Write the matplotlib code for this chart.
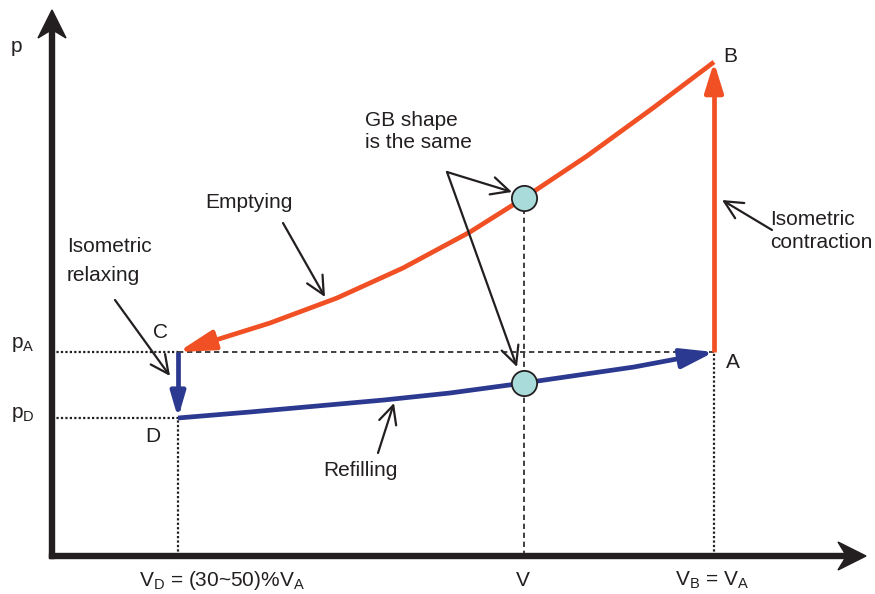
import matplotlib
matplotlib.use('Agg')
import matplotlib.pyplot as plt
from matplotlib.patches import FancyArrowPatch
from matplotlib.path import Path
import numpy as np

plt.rcParams['font.family'] = ['Liberation Sans', 'DejaVu Sans']
plt.rcParams['mathtext.default'] = 'regular'

# p-V loop, diagram units (origin = corner of the axes)
v_empty = [662, 601, 535, 472, 418, 351, 285, 218, 151, 126]
p_empty = [494, 448, 400, 358, 324, 288, 258, 233, 212, 204]
v_fill = [126, 198, 332, 398, 472, 582, 662]
p_fill = [138, 144, 156, 163, 173, 189, 204]

v_d, v_mid, v_a = 126, 472, 662
p_d, p_a, p_b = 138, 204, 494
p_mid = [358, 173]   # GB points on emptying / refilling curve

x_labels = ['V$_D$ = (30~50)%V$_A$', 'V', 'V$_B$ = V$_A$']
y_labels = ['p$_A$', 'p$_D$']

orange = '#f05023'
blue = '#2b3990'
ink = '#231f20'

fig = plt.figure(figsize=(8.75, 5.94), dpi=100)
ax = fig.add_axes([0, 0, 1, 1])
ax.set_xlim(-52, 823)
ax.set_ylim(-38, 556)
ax.axis('off')

# axes with arrows
ax.arrow(-2.5, 0, 816.5, 0, width=5, head_width=28, head_length=28, overhang=0.25,
         length_includes_head=True, color=ink, zorder=6)
ax.arrow(0, -2.5, 0, 548.5, width=5, head_width=28, head_length=28, overhang=0.25,
         length_includes_head=True, color=ink, zorder=6)

# guide lines
dot = dict(color=ink, lw=1.6, ls=(0, (1, 1)), dash_capstyle='butt')
dash = dict(color=ink, lw=1.2, ls=(0, (3.2, 2.2)))
ax.plot([0, v_d], [p_a, p_a], **dot)
ax.plot([0, v_d], [p_d, p_d], **dot)
ax.plot([v_d, v_d], [0, p_d], **dot)
ax.plot([v_a, v_a], [0, p_a], **dot)
ax.plot([v_d, v_a], [p_a, p_a], **dash)
ax.plot([v_mid, v_mid], [0, p_mid[0]], **dash)


def curve(vs, ps, color, hl=0.9, hw=0.28):
    path = Path(np.column_stack([vs, ps]))
    arr = FancyArrowPatch(path=path, arrowstyle=f'-|>,head_length={hl},head_width={hw}',
                          mutation_scale=20, lw=3.4, color=color,
                          joinstyle='round', capstyle='butt', zorder=4)
    ax.add_patch(arr)


curve(v_empty, p_empty, orange, hl=1.1, hw=0.3)
curve([v_a, v_a], [p_a, p_b], orange)
curve([v_d, v_d], [p_a, p_d], blue, hl=0.75, hw=0.22)
curve(v_fill, p_fill, blue, hl=1.0, hw=0.3)

ax.scatter([v_mid, v_mid], p_mid, s=330, color='#a9dbdb', edgecolor=ink,
           linewidth=1.3, zorder=7)

# labels
fs = 15
ax.text(-41, 509, 'p', fontsize=fs, color=ink, va='center')
ax.text(-41, 211, y_labels[0], fontsize=fs, color=ink, va='center')
ax.text(-41, 141, y_labels[1], fontsize=fs, color=ink, va='center')
for x, lab in zip([170, 471, 660], x_labels):
    ax.text(x, -24, lab, fontsize=fs, color=ink, ha='center', va='center')
for x, y, lab in [(108, 223, 'C'), (101, 119, 'D'), (681, 194, 'A'), (678, 499, 'B')]:
    ax.text(x, y, lab, fontsize=fs, color=ink, ha='center', va='center')

ax.text(313, 424, 'GB shape\nis the same', fontsize=fs, color=ink, va='center', linespacing=1.2)
ax.text(153, 353, 'Emptying', fontsize=fs, color=ink, va='center')
ax.text(15, 295, 'Isometric\nrelaxing', fontsize=fs, color=ink, va='center', linespacing=1.65)
ax.text(718, 325, 'Isometric\ncontraction', fontsize=fs, color=ink, va='center', linespacing=1.25)
ax.text(308, 85, 'Refilling', fontsize=fs, color=ink, ha='center', va='center')

# pointer arrows
ptr = dict(arrowstyle='->,head_length=0.45,head_width=0.22', mutation_scale=29,
           lw=1.6, color=ink, shrinkA=0, shrinkB=0)
for tail, tip in [((231, 333), (273, 259)), ((63, 256), (118, 180)),
                  ((395, 384), (460, 364)), ((395, 384), (465, 189)),
                  ((720, 326), (670, 356)), ((326, 103), (342, 153))]:
    ax.annotate('', xy=tip, xytext=tail, arrowprops=ptr, zorder=8)

fig.savefig('out.png', dpi=100)
